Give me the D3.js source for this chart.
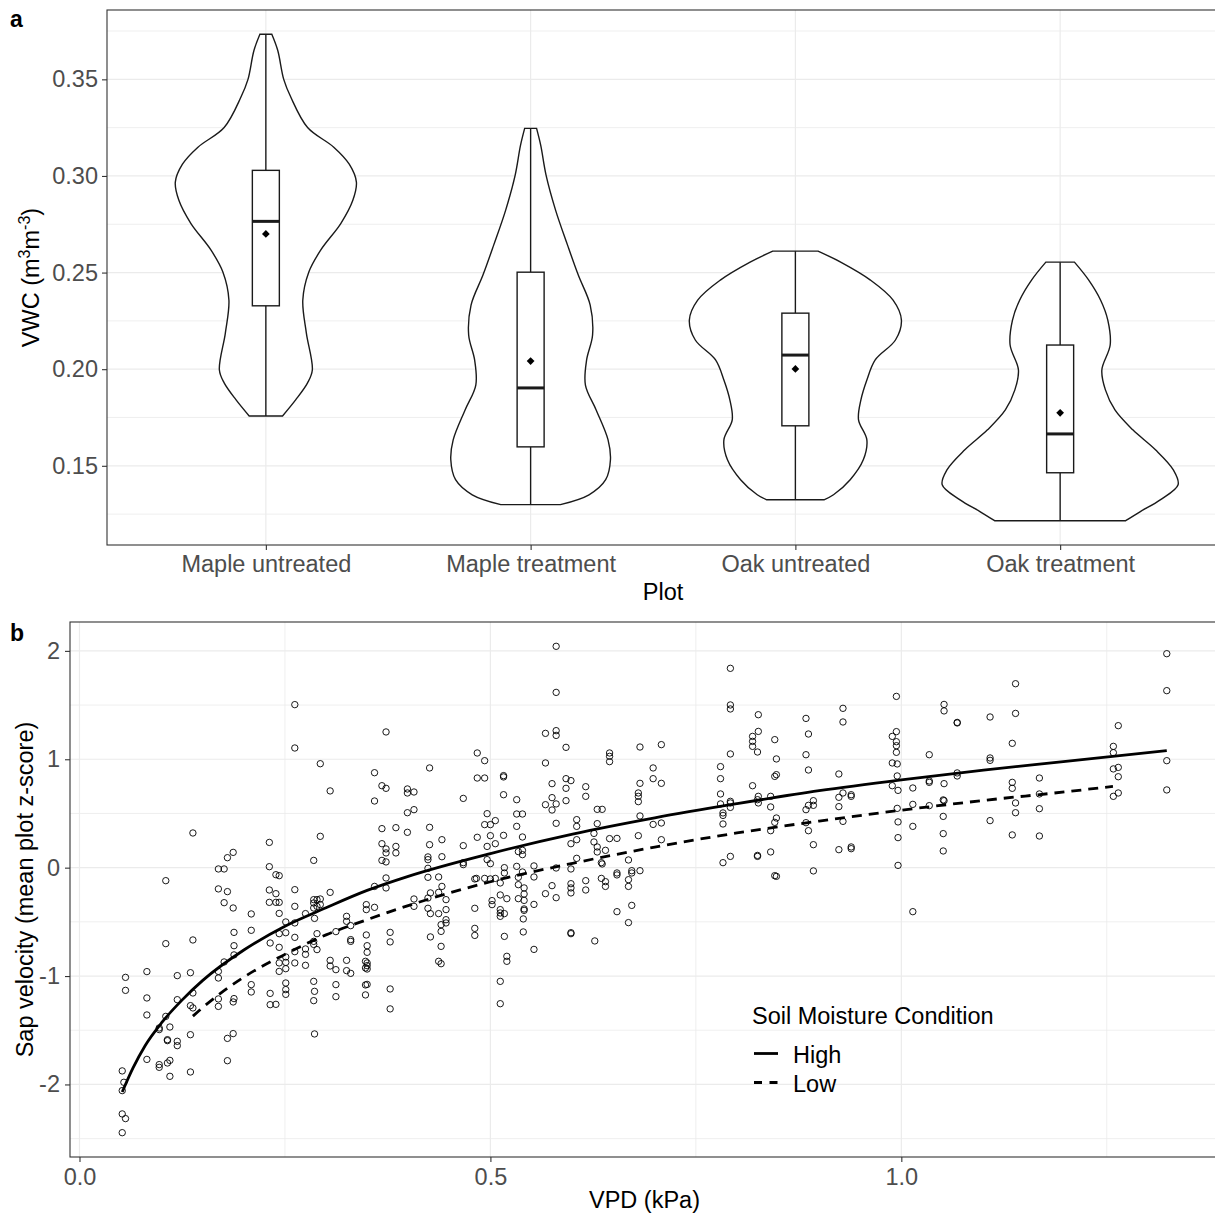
<!DOCTYPE html>
<html><head><meta charset="utf-8">
<script src="https://cdn.jsdelivr.net/npm/d3@7"></script>
<style>
body{margin:0;background:#fff}
text{font-family:"Liberation Sans",Arial,Helvetica,sans-serif}
</style>
</head><body>
<svg id="c" width="1215" height="1217"></svg>
<script>
// ---------------- DATA ----------------
const plots = ["Maple untreated","Maple treatment","Oak untreated","Oak treatment"];

// violin outlines: [VWC value, relative half-width (1 = widest violin)]
const violinMapleUntreated = [[0.3733,0.05],[0.3649,0.10],[0.35,0.15],[0.3407,0.21],[0.3251,0.35],[0.3149,0.57],[0.3061,0.70],[0.2968,0.76],[0.2874,0.73],[0.2755,0.63],[0.2616,0.46],[0.2502,0.36],[0.2357,0.31],[0.2187,0.34],[0.1996,0.39],[0.1929,0.35],[0.1841,0.25],[0.1758,0.14]];
const violinMapleTreatment = [[0.3246,0.05],[0.3158,0.085],[0.3003,0.13],[0.2822,0.21],[0.2642,0.31],[0.2487,0.40],[0.2332,0.50],[0.2177,0.52],[0.2048,0.47],[0.1918,0.46],[0.1789,0.55],[0.1634,0.65],[0.1531,0.67],[0.1428,0.63],[0.1350,0.49],[0.1299,0.25]];
const violinOakUntreated = [[0.2611,0.19],[0.2554,0.38],[0.2461,0.63],[0.2357,0.82],[0.2254,0.89],[0.2151,0.84],[0.2048,0.67],[0.1944,0.60],[0.1841,0.55],[0.1738,0.53],[0.1634,0.60],[0.1531,0.57],[0.1428,0.46],[0.1350,0.32],[0.1324,0.24]];
const violinOakTreatment = [[0.2554,0.12],[0.2461,0.24],[0.2357,0.34],[0.2254,0.40],[0.2125,0.42],[0.1996,0.35],[0.1893,0.38],[0.1789,0.46],[0.1686,0.61],[0.1583,0.80],[0.1479,0.95],[0.1402,0.99],[0.1324,0.84],[0.1262,0.67],[0.1216,0.55]];
const violins = [violinMapleUntreated, violinMapleTreatment, violinOakUntreated, violinOakTreatment];

const boxMin    = [0.1758, 0.1299, 0.1324, 0.1216];
const boxQ1     = [0.2328, 0.1598, 0.1707, 0.1464];
const boxMedian = [0.2765, 0.1903, 0.2073, 0.1665];
const boxQ3     = [0.3029, 0.2502, 0.2290, 0.2125];
const boxMax    = [0.3733, 0.3246, 0.2611, 0.2554];
const boxMean   = [0.2700, 0.2042, 0.2001, 0.1774];

const vwcTicks = [0.15,0.20,0.25,0.30,0.35];
const vwcMinor = [0.125,0.175,0.225,0.275,0.325,0.375];

// panel b: [VPD (kPa), sap velocity z-score]
const sapObs = [
[0.262,1.504],[0.262,1.104],[0.138,0.320],[0.105,-0.120],[0.231,0.233],[0.187,0.141],[0.180,0.092],[0.169,-0.012],[0.176,-0.012],[0.231,0.009],[0.239,-0.065],[0.243,-0.074],[0.169,-0.196],[0.180,-0.221],[0.176,-0.323],[0.187,-0.372],[0.231,-0.206],[0.239,-0.240],[0.231,-0.320],[0.239,-0.320],[0.243,-0.320],[0.262,-0.203],[0.262,-0.357],[0.243,-0.422],[0.209,-0.427],[0.209,-0.578],[0.188,-0.597],[0.251,-0.501],[0.262,-0.510],[0.105,-0.701],[0.138,-0.667],[0.188,-0.720],[0.188,-0.805],[0.232,-0.695],[0.243,-0.735],[0.243,-0.609],[0.251,-0.600],[0.262,-0.643],[0.262,-0.775],[0.251,-0.824],[0.243,-0.879],[0.251,-0.874],[0.243,-0.957],[0.251,-0.932],[0.262,-0.879],[0.176,-0.870],[0.169,-0.957],[0.169,-1.018],[0.082,-0.959],[0.056,-1.012],[0.056,-1.132],[0.119,-0.996],[0.135,-0.969],[0.082,-1.202],[0.119,-1.218],[0.138,-1.156],[0.135,-1.273],[0.138,-1.294],[0.169,-1.211],[0.169,-1.280],[0.188,-1.208],[0.187,-1.239],[0.209,-1.079],[0.209,-1.147],[0.251,-1.064],[0.251,-1.125],[0.251,-1.169],[0.232,-1.160],[0.232,-1.264],[0.239,-1.261],[0.082,-1.359],[0.105,-1.372],[0.097,-1.479],[0.097,-1.494],[0.110,-1.470],[0.107,-1.587],[0.107,-1.596],[0.119,-1.602],[0.119,-1.642],[0.135,-1.541],[0.180,-1.575],[0.187,-1.531],[0.180,-1.781],[0.082,-1.769],[0.097,-1.817],[0.097,-1.842],[0.107,-1.802],[0.110,-1.778],[0.110,-1.925],[0.135,-1.885],[0.052,-1.875],[0.054,-1.980],[0.052,-2.057],[0.052,-2.272],[0.056,-2.315],[0.052,-2.445],
[0.293,0.959],[0.305,0.708],[0.293,0.289],[0.285,0.067],[0.275,-0.424],[0.285,-0.295],[0.289,-0.295],[0.293,-0.289],[0.285,-0.326],[0.285,-0.372],[0.289,-0.357],[0.293,-0.341],[0.286,-0.468],[0.305,-0.228],[0.289,-0.609],[0.285,-0.680],[0.285,-0.708],[0.289,-0.756],[0.275,-0.750],[0.275,-0.800],[0.275,-0.901],[0.312,-0.590],[0.305,-0.855],[0.305,-0.907],[0.312,-0.941],[0.312,-1.079],[0.312,-1.190],[0.285,-1.049],[0.286,-1.141],[0.285,-1.227],[0.286,-1.534],[0.325,-0.449],[0.325,-0.495],[0.330,-0.535],[0.330,-0.664],[0.330,-0.680],[0.325,-0.855],[0.325,-0.950],[0.330,-0.975],[0.349,-0.621],[0.350,-0.720],[0.350,-0.781],[0.348,-0.864],[0.350,-0.879],[0.350,-0.904],[0.348,-0.925],[0.350,-0.935],[0.348,-1.082],[0.350,-1.077],[0.348,-1.174],[0.349,-0.341],[0.349,-0.387],[0.359,-0.173],[0.359,-0.366],[0.359,0.876],[0.359,0.615],[0.368,0.756],[0.373,0.732],[0.373,1.252],[0.368,0.360],[0.368,0.221],[0.373,0.173],[0.373,0.136],[0.368,0.067],[0.373,0.053],[0.373,-0.095],[0.373,-0.187],[0.385,0.369],[0.385,0.196],[0.385,0.136],[0.378,-0.597],[0.378,-0.685],[0.378,-1.119],[0.378,-1.303],[0.399,0.726],[0.399,0.689],[0.407,0.698],[0.399,0.507],[0.407,0.535],[0.399,0.326],[0.407,-0.289],[0.407,-0.357],[0.426,0.920],[0.426,0.372],[0.426,0.212],[0.424,0.099],[0.424,0.074],[0.424,-0.006],[0.424,-0.089],[0.424,-0.280],[0.427,-0.233],[0.424,-0.375],[0.427,-0.424],[0.427,-0.639],[0.437,-0.086],[0.437,-0.228],[0.441,0.258],[0.441,0.101],[0.441,-0.173],[0.437,-0.424],[0.446,-0.295],[0.446,-0.387],[0.446,-0.480],[0.446,-0.510],[0.440,-0.526],[0.440,-0.588],[0.440,-0.726],[0.437,-0.864],[0.440,-0.886],[0.467,0.639],[0.467,0.203],[0.467,0.046],[0.467,0.028],[0.481,-0.104],[0.483,-0.099],[0.481,-0.375],[0.481,-0.560],[0.481,-0.625],[0.484,1.058],[0.493,0.987],[0.484,0.827],[0.493,0.827],[0.484,0.280],[0.493,0.397],[0.500,0.397],[0.496,0.498],[0.506,0.434],[0.500,0.295],[0.506,0.221],[0.496,0.196],[0.496,0.074],[0.500,0.037],[0.493,-0.099],[0.500,-0.104],[0.506,-0.099],[0.502,-0.304],[0.502,-0.341],[0.512,-0.252],[0.512,-0.387],[0.512,-0.418],[0.512,-0.449],[0.517,-0.424],[0.517,-0.634],[0.520,-0.818],[0.520,-0.864],[0.512,-1.049],[0.512,-1.255],[0.516,0.849],[0.516,0.837],[0.516,0.673],[0.516,0.298],[0.517,0.000],[0.517,-0.049],[0.512,-0.141],[0.520,-0.286],[0.532,0.627],[0.532,0.495],[0.532,0.381],[0.534,0.148],[0.532,0.012],[0.534,-0.157],[0.534,-0.286],
[0.580,2.042],[0.580,1.617],[0.567,1.239],[0.580,1.264],[0.580,1.220],[0.592,1.110],[0.567,0.966],[0.575,0.775],[0.592,0.821],[0.598,0.803],[0.592,0.732],[0.592,0.618],[0.567,0.581],[0.575,0.646],[0.580,0.588],[0.575,0.532],[0.580,0.409],[0.539,0.495],[0.539,0.283],[0.539,0.160],[0.539,0.120],[0.539,-0.040],[0.553,0.016],[0.534,-0.089],[0.553,-0.086],[0.541,-0.187],[0.541,-0.243],[0.541,-0.302],[0.541,-0.381],[0.541,-0.394],[0.553,-0.339],[0.540,-0.473],[0.540,-0.593],[0.553,-0.754],[0.567,-0.240],[0.575,-0.166],[0.580,-0.003],[0.580,-0.277],[0.598,0.221],[0.605,0.443],[0.605,0.381],[0.605,0.258],[0.605,0.086],[0.598,-0.012],[0.598,-0.148],[0.598,-0.187],[0.598,-0.233],[0.598,-0.600],[0.598,-0.609],[0.616,0.747],[0.616,0.658],[0.616,-0.120],[0.616,-0.206],[0.627,-0.676],[0.630,0.538],[0.636,0.538],[0.630,0.406],[0.626,0.316],[0.626,0.237],[0.630,0.191],[0.630,0.145],[0.640,0.160],[0.635,0.046],[0.636,0.034],[0.635,-0.099],[0.640,-0.129],[0.640,-0.173],[0.645,1.058],[0.645,1.027],[0.645,0.978],[0.645,0.268],[0.654,0.270],[0.654,-0.049],[0.654,-0.067],[0.654,-0.406],[0.668,0.071],[0.672,-0.028],[0.672,-0.049],[0.668,-0.111],[0.668,-0.173],[0.672,-0.348],[0.668,-0.507],[0.682,1.113],[0.682,0.778],[0.680,0.689],[0.680,0.658],[0.680,0.609],[0.682,0.477],[0.680,0.295],[0.682,-0.028],[0.708,1.135],[0.698,0.920],[0.698,0.821],[0.708,0.778],[0.698,0.399],[0.708,0.412],[0.708,0.258],[0.792,1.839],[0.792,1.501],[0.792,1.464],[0.792,1.049],[0.780,0.932],[0.780,0.821],[0.780,0.680],[0.780,0.588],[0.783,0.505],[0.783,0.482],[0.783,0.403],[0.792,0.612],[0.792,0.597],[0.792,0.556],[0.783,0.046],[0.792,0.104],
[0.826,1.411],[0.826,1.257],[0.819,1.211],[0.819,1.165],[0.819,1.119],[0.825,1.067],[0.846,1.181],[0.848,1.003],[0.846,0.842],[0.848,0.858],[0.819,0.756],[0.826,0.658],[0.826,0.597],[0.825,0.627],[0.841,0.658],[0.841,0.560],[0.848,0.458],[0.846,0.418],[0.841,0.341],[0.841,0.145],[0.825,0.113],[0.825,0.104],[0.846,-0.074],[0.848,-0.080],[0.884,1.377],[0.887,1.233],[0.884,1.042],[0.887,0.901],[0.893,0.618],[0.887,0.575],[0.893,0.575],[0.884,0.535],[0.884,0.415],[0.887,0.341],[0.893,0.212],[0.893,-0.030],[0.929,1.470],[0.929,1.344],[0.924,0.864],[0.924,0.649],[0.929,0.689],[0.939,0.673],[0.939,0.658],[0.924,0.563],[0.929,0.427],[0.924,0.166],[0.939,0.191],[0.939,0.175],[0.994,1.580],[0.994,1.255],[0.989,1.211],[0.994,1.162],[0.994,1.125],[0.994,1.064],[0.989,0.966],[0.995,0.957],[0.995,0.846],[0.989,0.756],[0.996,0.713],[0.995,0.547],[0.996,0.422],[0.996,0.277],[0.996,0.021],[1.014,0.735],[1.014,0.584],[1.014,0.381],[1.014,-0.406],[1.034,1.042],[1.034,0.800],[1.034,0.787],[1.034,0.572],[1.052,1.506],[1.052,1.446],[1.068,1.340],[1.068,1.335],[1.068,0.874],[1.068,0.846],[1.052,0.775],[1.051,0.625],[1.052,0.618],[1.051,0.473],[1.051,0.314],[1.051,0.154],[1.108,1.390],[1.108,1.012],[1.108,0.990],[1.108,0.434],[1.139,1.697],[1.139,1.423],[1.135,1.147],[1.135,0.787],[1.135,0.732],[1.139,0.597],[1.139,0.507],[1.135,0.302],[1.168,0.827],[1.168,0.680],[1.168,0.544],[1.168,0.292],[1.264,1.310],[1.258,1.119],[1.258,1.061],[1.258,0.911],[1.264,0.925],[1.264,0.839],[1.264,0.689],[1.258,0.658],[1.323,1.974],[1.323,1.633],[1.323,0.987],[1.323,0.717]
];

// fitted curves: [VPD, z]
const fitHigh = [[0.052,-2.07],[0.065,-1.85],[0.08,-1.64],[0.1,-1.43],[0.125,-1.22],[0.15,-1.04],[0.2,-0.76],[0.25,-0.54],[0.3,-0.37],[0.35,-0.21],[0.4,-0.08],[0.5,0.13],[0.6,0.31],[0.7,0.46],[0.8,0.59],[0.9,0.71],[1.0,0.81],[1.1,0.90],[1.2,0.98],[1.323,1.08]];
const fitLow = [[0.138,-1.37],[0.15,-1.29],[0.2,-1.01],[0.25,-0.80],[0.3,-0.62],[0.35,-0.48],[0.4,-0.35],[0.5,-0.13],[0.6,0.04],[0.7,0.19],[0.8,0.32],[0.9,0.43],[1.0,0.53],[1.1,0.62],[1.2,0.70],[1.2575,0.75]];

const vpdTicks = [0, 0.5, 1.0];
const vpdMinor = [0.25, 0.75, 1.25];
const zTicks = [-2,-1,0,1,2];
const zMinor = [-2.5,-1.5,-0.5,0.5,1.5];
const legendLabels = ["High","Low"];

// ---------------- DRAW ----------------
const svg = d3.select("#c");
const GRID = "#ebebeb", BORDER = "#333333", TICKTXT = "#4d4d4d";
const FS = 23.5;

function expand(ext){ const p=(ext[1]-ext[0])*0.05; return [ext[0]-p, ext[1]+p]; }

// ===== Panel a =====
const A = {l:107, r:1219, t:10, b:545};
const xa = d3.scalePoint().domain(plots).range([A.l, A.r]).padding(0.6);
const ya = d3.scaleLinear().domain(expand([d3.min(boxMin), d3.max(boxMax)])).range([A.b, A.t]);
const vw = d3.scaleLinear().domain([0,1]).range([0, xa.step()*0.45]);

const ga = svg.append("g");
ga.selectAll("line.minor").data(vwcMinor.filter(v=>v>ya.domain()[0]&&v<ya.domain()[1])).join("line")
  .attr("x1",A.l).attr("x2",A.r).attr("y1",d=>ya(d)).attr("y2",d=>ya(d))
  .attr("stroke",GRID).attr("stroke-width",0.8);
ga.selectAll("line.major").data(vwcTicks).join("line")
  .attr("x1",A.l).attr("x2",A.r).attr("y1",d=>ya(d)).attr("y2",d=>ya(d))
  .attr("stroke",GRID).attr("stroke-width",1.2);
ga.selectAll("line.vmajor").data(plots).join("line")
  .attr("y1",A.t).attr("y2",A.b).attr("x1",d=>xa(d)).attr("x2",d=>xa(d))
  .attr("stroke",GRID).attr("stroke-width",1.2);

plots.forEach((p,i)=>{
  const cx = xa(p);
  const area = d3.area().y(d=>ya(d[0])).x0(d=>cx-vw(d[1])).x1(d=>cx+vw(d[1])).curve(d3.curveCatmullRom);
  ga.append("path").attr("d", area(violins[i])).attr("fill","#fff").attr("stroke","#1a1a1a").attr("stroke-width",1.4);
  const bw = 13.5;
  ga.append("line").attr("x1",cx).attr("x2",cx).attr("y1",ya(boxMax[i])).attr("y2",ya(boxQ3[i])).attr("stroke","#1a1a1a").attr("stroke-width",1.4);
  ga.append("line").attr("x1",cx).attr("x2",cx).attr("y1",ya(boxQ1[i])).attr("y2",ya(boxMin[i])).attr("stroke","#1a1a1a").attr("stroke-width",1.4);
  ga.append("rect").attr("x",cx-bw).attr("width",bw*2).attr("y",ya(boxQ3[i])).attr("height",ya(boxQ1[i])-ya(boxQ3[i]))
    .attr("fill","#fff").attr("stroke","#1a1a1a").attr("stroke-width",1.4);
  ga.append("line").attr("x1",cx-bw).attr("x2",cx+bw).attr("y1",ya(boxMedian[i])).attr("y2",ya(boxMedian[i])).attr("stroke","#1a1a1a").attr("stroke-width",3);
  ga.append("path").attr("d", d3.symbol(d3.symbolSquare, 30)()).attr("transform",`translate(${cx},${ya(boxMean[i])}) rotate(45)`).attr("fill","#000");
});

ga.append("rect").attr("x",A.l).attr("y",A.t).attr("width",A.r-A.l).attr("height",A.b-A.t).attr("fill","none").attr("stroke",BORDER).attr("stroke-width",1.1);

const axYa = ga.append("g").attr("transform",`translate(${A.l},0)`).call(d3.axisLeft(ya).tickValues(vwcTicks).tickFormat(d3.format(".2f")).tickSize(5).tickPadding(4));
const axXa = ga.append("g").attr("transform",`translate(0,${A.b})`).call(d3.axisBottom(xa).tickSize(5).tickPadding(5));
[axYa, axXa].forEach(ax=>{
  ax.select(".domain").remove();
  ax.selectAll(".tick line").attr("stroke",BORDER).attr("stroke-width",1.1);
  ax.selectAll(".tick text").attr("fill",TICKTXT).style("font-size",FS+"px").style("font-family","Liberation Sans, Arial, sans-serif");
});
ga.append("text").attr("x",(A.l+A.r)/2).attr("y",600).attr("text-anchor","middle").style("font-size",FS+"px").text("Plot");
const yt = ga.append("text").attr("transform",`translate(39,${(A.t+A.b)/2}) rotate(-90)`).attr("text-anchor","middle").style("font-size",FS+"px");
yt.append("tspan").text("VWC (m");
yt.append("tspan").attr("dy",-9).style("font-size","16px").text("3");
yt.append("tspan").attr("dy",9).text("m");
yt.append("tspan").attr("dy",-9).style("font-size","16px").text("-3");
yt.append("tspan").attr("dy",9).text(")");
svg.append("text").attr("x",10).attr("y",27).style("font-size","23px").style("font-weight","bold").text("a");

// ===== Panel b =====
const B = {l:70, r:1219, t:622, b:1157};
const xb = d3.scaleLinear().domain(expand(d3.extent(sapObs,d=>d[0]))).range([B.l,B.r]);
const yb = d3.scaleLinear().domain(expand(d3.extent(sapObs,d=>d[1]))).range([B.b,B.t]);
const gb = svg.append("g");
gb.selectAll("line.hmin").data(zMinor.filter(v=>v>yb.domain()[0]&&v<yb.domain()[1])).join("line")
  .attr("x1",B.l).attr("x2",B.r).attr("y1",d=>yb(d)).attr("y2",d=>yb(d)).attr("stroke",GRID).attr("stroke-width",0.8);
gb.selectAll("line.vmin").data(vpdMinor.filter(v=>v>xb.domain()[0]&&v<xb.domain()[1])).join("line")
  .attr("y1",B.t).attr("y2",B.b).attr("x1",d=>xb(d)).attr("x2",d=>xb(d)).attr("stroke",GRID).attr("stroke-width",0.8);
gb.selectAll("line.hmaj").data(zTicks).join("line")
  .attr("x1",B.l).attr("x2",B.r).attr("y1",d=>yb(d)).attr("y2",d=>yb(d)).attr("stroke",GRID).attr("stroke-width",1.2);
gb.selectAll("line.vmaj").data(vpdTicks).join("line")
  .attr("y1",B.t).attr("y2",B.b).attr("x1",d=>xb(d)).attr("x2",d=>xb(d)).attr("stroke",GRID).attr("stroke-width",1.2);

gb.selectAll("circle").data(sapObs).join("circle")
  .attr("cx",d=>xb(d[0])).attr("cy",d=>yb(d[1])).attr("r",3.2)
  .attr("fill","none").attr("stroke","#000").attr("stroke-width",0.9);

const line = d3.line().x(d=>xb(d[0])).y(d=>yb(d[1])).curve(d3.curveMonotoneX);
gb.append("path").attr("d",line(fitHigh)).attr("fill","none").attr("stroke","#000").attr("stroke-width",2.8);
gb.append("path").attr("d",line(fitLow)).attr("fill","none").attr("stroke","#000").attr("stroke-width",2.8).attr("stroke-dasharray","10,7");

gb.append("rect").attr("x",B.l).attr("y",B.t).attr("width",B.r-B.l).attr("height",B.b-B.t).attr("fill","none").attr("stroke",BORDER).attr("stroke-width",1.1);

const axYb = gb.append("g").attr("transform",`translate(${B.l},0)`).call(d3.axisLeft(yb).tickValues(zTicks).tickFormat(d=>String(d)).tickSize(5).tickPadding(5));
const axXb = gb.append("g").attr("transform",`translate(0,${B.b})`).call(d3.axisBottom(xb).tickValues(vpdTicks).tickFormat(d3.format(".1f")).tickSize(5).tickPadding(6));
[axYb, axXb].forEach(ax=>{
  ax.select(".domain").remove();
  ax.selectAll(".tick line").attr("stroke",BORDER).attr("stroke-width",1.1);
  ax.selectAll(".tick text").attr("fill",TICKTXT).style("font-size",FS+"px").style("font-family","Liberation Sans, Arial, sans-serif");
});
gb.append("text").attr("x",(B.l+B.r)/2).attr("y",1208).attr("text-anchor","middle").style("font-size",FS+"px").text("VPD (kPa)");
gb.append("text").attr("transform",`translate(33,${(B.t+B.b)/2}) rotate(-90)`).attr("text-anchor","middle").style("font-size",FS+"px").text("Sap velocity (mean plot z-score)");
svg.append("text").attr("x",10).attr("y",641).style("font-size","23px").style("font-weight","bold").text("b");

// legend
const lg = svg.append("g").attr("transform","translate(752,0)");
lg.append("text").attr("x",0).attr("y",1024).style("font-size",FS+"px").text("Soil Moisture Condition");
legendLabels.forEach((lab,i)=>{
  const y = 1053.5 + i*29;
  lg.append("line").attr("x1",2).attr("x2",26).attr("y1",y).attr("y2",y).attr("stroke","#000").attr("stroke-width",2.8)
    .attr("stroke-dasharray", i===1 ? "8,7.5" : null);
  lg.append("text").attr("x",41).attr("y",y+9).style("font-size",FS+"px").text(lab);
});
</script>
</body></html>
